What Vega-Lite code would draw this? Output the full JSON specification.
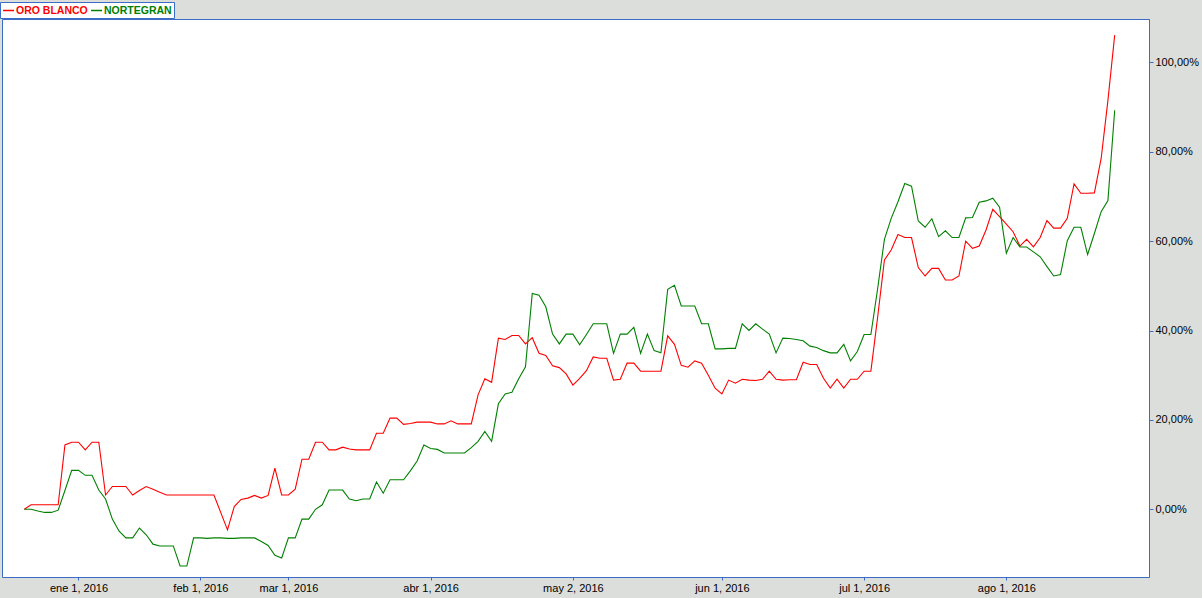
{
  "$schema": "https://vega.github.io/schema/vega-lite/v6.json",
  "width": 1147,
  "height": 558,
  "autosize": "none",
  "padding": {"left": 2, "top": 19, "right": 53, "bottom": 21},
  "background": "#dcdedc",
  "view": {"fill": "white", "stroke": "#3b6dc6", "strokeWidth": 1},
  "data": {
    "values": [
      {"fecha": "2015-12-18", "ORO BLANCO": 0, "NORTEGRAN": 0},
      {"fecha": "2015-12-21", "ORO BLANCO": 1.0, "NORTEGRAN": 0},
      {"fecha": "2015-12-22", "ORO BLANCO": 1.0, "NORTEGRAN": -0.4},
      {"fecha": "2015-12-23", "ORO BLANCO": 1.0, "NORTEGRAN": -0.7},
      {"fecha": "2015-12-24", "ORO BLANCO": 1.0, "NORTEGRAN": -0.7},
      {"fecha": "2015-12-28", "ORO BLANCO": 1.0, "NORTEGRAN": -0.2},
      {"fecha": "2015-12-29", "ORO BLANCO": 14.4, "NORTEGRAN": 4.2},
      {"fecha": "2015-12-30", "ORO BLANCO": 15.0, "NORTEGRAN": 8.7},
      {"fecha": "2016-01-04", "ORO BLANCO": 15.0, "NORTEGRAN": 8.7},
      {"fecha": "2016-01-05", "ORO BLANCO": 13.3, "NORTEGRAN": 7.6},
      {"fecha": "2016-01-06", "ORO BLANCO": 15.0, "NORTEGRAN": 7.6},
      {"fecha": "2016-01-07", "ORO BLANCO": 15.0, "NORTEGRAN": 4.3},
      {"fecha": "2016-01-08", "ORO BLANCO": 3.2, "NORTEGRAN": 2.3},
      {"fecha": "2016-01-11", "ORO BLANCO": 5.1, "NORTEGRAN": -2.2},
      {"fecha": "2016-01-12", "ORO BLANCO": 5.1, "NORTEGRAN": -4.9},
      {"fecha": "2016-01-13", "ORO BLANCO": 5.1, "NORTEGRAN": -6.4},
      {"fecha": "2016-01-14", "ORO BLANCO": 3.2, "NORTEGRAN": -6.4},
      {"fecha": "2016-01-18", "ORO BLANCO": 4.2, "NORTEGRAN": -4.2},
      {"fecha": "2016-01-19", "ORO BLANCO": 5.1, "NORTEGRAN": -5.7},
      {"fecha": "2016-01-20", "ORO BLANCO": 4.5, "NORTEGRAN": -7.8},
      {"fecha": "2016-01-21", "ORO BLANCO": 3.8, "NORTEGRAN": -8.2},
      {"fecha": "2016-01-22", "ORO BLANCO": 3.2, "NORTEGRAN": -8.2},
      {"fecha": "2016-01-25", "ORO BLANCO": 3.2, "NORTEGRAN": -8.2},
      {"fecha": "2016-01-26", "ORO BLANCO": 3.2, "NORTEGRAN": -12.7},
      {"fecha": "2016-01-28", "ORO BLANCO": 3.2, "NORTEGRAN": -12.7},
      {"fecha": "2016-01-29", "ORO BLANCO": 3.2, "NORTEGRAN": -6.4},
      {"fecha": "2016-02-01", "ORO BLANCO": 3.2, "NORTEGRAN": -6.4},
      {"fecha": "2016-02-02", "ORO BLANCO": 3.2, "NORTEGRAN": -6.5},
      {"fecha": "2016-02-04", "ORO BLANCO": 3.2, "NORTEGRAN": -6.4},
      {"fecha": "2016-02-05", "ORO BLANCO": -0.7, "NORTEGRAN": -6.4},
      {"fecha": "2016-02-09", "ORO BLANCO": -4.6, "NORTEGRAN": -6.5},
      {"fecha": "2016-02-10", "ORO BLANCO": 0.6, "NORTEGRAN": -6.5},
      {"fecha": "2016-02-12", "ORO BLANCO": 2.2, "NORTEGRAN": -6.4},
      {"fecha": "2016-02-16", "ORO BLANCO": 2.5, "NORTEGRAN": -6.4},
      {"fecha": "2016-02-17", "ORO BLANCO": 3.1, "NORTEGRAN": -6.4},
      {"fecha": "2016-02-19", "ORO BLANCO": 2.5, "NORTEGRAN": -7.2},
      {"fecha": "2016-02-23", "ORO BLANCO": 3.1, "NORTEGRAN": -8.1},
      {"fecha": "2016-02-25", "ORO BLANCO": 9.2, "NORTEGRAN": -10.3},
      {"fecha": "2016-02-29", "ORO BLANCO": 3.2, "NORTEGRAN": -10.9},
      {"fecha": "2016-03-01", "ORO BLANCO": 3.2, "NORTEGRAN": -6.4},
      {"fecha": "2016-03-02", "ORO BLANCO": 4.5, "NORTEGRAN": -6.4},
      {"fecha": "2016-03-03", "ORO BLANCO": 11.2, "NORTEGRAN": -2.2},
      {"fecha": "2016-03-04", "ORO BLANCO": 11.2, "NORTEGRAN": -2.2},
      {"fecha": "2016-03-07", "ORO BLANCO": 15.0, "NORTEGRAN": 0.0},
      {"fecha": "2016-03-08", "ORO BLANCO": 15.0, "NORTEGRAN": 1.0},
      {"fecha": "2016-03-10", "ORO BLANCO": 13.3, "NORTEGRAN": 4.3},
      {"fecha": "2016-03-11", "ORO BLANCO": 13.3, "NORTEGRAN": 4.3},
      {"fecha": "2016-03-14", "ORO BLANCO": 13.9, "NORTEGRAN": 4.3},
      {"fecha": "2016-03-15", "ORO BLANCO": 13.5, "NORTEGRAN": 2.3},
      {"fecha": "2016-03-16", "ORO BLANCO": 13.3, "NORTEGRAN": 1.9},
      {"fecha": "2016-03-17", "ORO BLANCO": 13.3, "NORTEGRAN": 2.3},
      {"fecha": "2016-03-18", "ORO BLANCO": 13.3, "NORTEGRAN": 2.3},
      {"fecha": "2016-03-21", "ORO BLANCO": 17.0, "NORTEGRAN": 6.1},
      {"fecha": "2016-03-22", "ORO BLANCO": 17.0, "NORTEGRAN": 3.6},
      {"fecha": "2016-03-23", "ORO BLANCO": 20.4, "NORTEGRAN": 6.6},
      {"fecha": "2016-03-24", "ORO BLANCO": 20.4, "NORTEGRAN": 6.6},
      {"fecha": "2016-03-28", "ORO BLANCO": 19.0, "NORTEGRAN": 6.6},
      {"fecha": "2016-03-29", "ORO BLANCO": 19.2, "NORTEGRAN": 8.6},
      {"fecha": "2016-03-30", "ORO BLANCO": 19.5, "NORTEGRAN": 10.8},
      {"fecha": "2016-03-31", "ORO BLANCO": 19.5, "NORTEGRAN": 14.4},
      {"fecha": "2016-04-01", "ORO BLANCO": 19.5, "NORTEGRAN": 13.6},
      {"fecha": "2016-04-04", "ORO BLANCO": 19.1, "NORTEGRAN": 13.4},
      {"fecha": "2016-04-05", "ORO BLANCO": 19.1, "NORTEGRAN": 12.6},
      {"fecha": "2016-04-06", "ORO BLANCO": 19.8, "NORTEGRAN": 12.6},
      {"fecha": "2016-04-07", "ORO BLANCO": 19.1, "NORTEGRAN": 12.6},
      {"fecha": "2016-04-08", "ORO BLANCO": 19.1, "NORTEGRAN": 12.6},
      {"fecha": "2016-04-11", "ORO BLANCO": 19.1, "NORTEGRAN": 13.8},
      {"fecha": "2016-04-12", "ORO BLANCO": 25.6, "NORTEGRAN": 15.2},
      {"fecha": "2016-04-13", "ORO BLANCO": 29.2, "NORTEGRAN": 17.4},
      {"fecha": "2016-04-14", "ORO BLANCO": 28.4, "NORTEGRAN": 15.2},
      {"fecha": "2016-04-15", "ORO BLANCO": 38.3, "NORTEGRAN": 23.6},
      {"fecha": "2016-04-18", "ORO BLANCO": 38.0, "NORTEGRAN": 25.8},
      {"fecha": "2016-04-19", "ORO BLANCO": 38.9, "NORTEGRAN": 26.2},
      {"fecha": "2016-04-20", "ORO BLANCO": 38.9, "NORTEGRAN": 29.2},
      {"fecha": "2016-04-21", "ORO BLANCO": 37.0, "NORTEGRAN": 31.9},
      {"fecha": "2016-04-22", "ORO BLANCO": 38.4, "NORTEGRAN": 48.3},
      {"fecha": "2016-04-25", "ORO BLANCO": 34.9, "NORTEGRAN": 47.9},
      {"fecha": "2016-04-26", "ORO BLANCO": 34.4, "NORTEGRAN": 45.3},
      {"fecha": "2016-04-27", "ORO BLANCO": 32.1, "NORTEGRAN": 39.2},
      {"fecha": "2016-04-28", "ORO BLANCO": 31.7, "NORTEGRAN": 37.0},
      {"fecha": "2016-04-29", "ORO BLANCO": 30.3, "NORTEGRAN": 39.2},
      {"fecha": "2016-05-02", "ORO BLANCO": 27.8, "NORTEGRAN": 39.2},
      {"fecha": "2016-05-03", "ORO BLANCO": 29.3, "NORTEGRAN": 36.8},
      {"fecha": "2016-05-04", "ORO BLANCO": 31.0, "NORTEGRAN": 39.1},
      {"fecha": "2016-05-05", "ORO BLANCO": 34.1, "NORTEGRAN": 41.5},
      {"fecha": "2016-05-06", "ORO BLANCO": 33.8, "NORTEGRAN": 41.5},
      {"fecha": "2016-05-09", "ORO BLANCO": 33.8, "NORTEGRAN": 41.5},
      {"fecha": "2016-05-10", "ORO BLANCO": 28.9, "NORTEGRAN": 34.9},
      {"fecha": "2016-05-11", "ORO BLANCO": 29.1, "NORTEGRAN": 39.2},
      {"fecha": "2016-05-12", "ORO BLANCO": 32.7, "NORTEGRAN": 39.2},
      {"fecha": "2016-05-13", "ORO BLANCO": 32.7, "NORTEGRAN": 40.7},
      {"fecha": "2016-05-16", "ORO BLANCO": 30.9, "NORTEGRAN": 34.9},
      {"fecha": "2016-05-17", "ORO BLANCO": 30.9, "NORTEGRAN": 39.2},
      {"fecha": "2016-05-18", "ORO BLANCO": 30.9, "NORTEGRAN": 35.5},
      {"fecha": "2016-05-19", "ORO BLANCO": 30.9, "NORTEGRAN": 35.0},
      {"fecha": "2016-05-20", "ORO BLANCO": 38.8, "NORTEGRAN": 49.2},
      {"fecha": "2016-05-23", "ORO BLANCO": 36.9, "NORTEGRAN": 50.1},
      {"fecha": "2016-05-24", "ORO BLANCO": 32.2, "NORTEGRAN": 45.5},
      {"fecha": "2016-05-25", "ORO BLANCO": 31.8, "NORTEGRAN": 45.5},
      {"fecha": "2016-05-26", "ORO BLANCO": 33.2, "NORTEGRAN": 45.5},
      {"fecha": "2016-05-27", "ORO BLANCO": 32.7, "NORTEGRAN": 41.5},
      {"fecha": "2016-05-30", "ORO BLANCO": 30.0, "NORTEGRAN": 41.5},
      {"fecha": "2016-05-31", "ORO BLANCO": 27.1, "NORTEGRAN": 35.9},
      {"fecha": "2016-06-01", "ORO BLANCO": 25.8, "NORTEGRAN": 35.9},
      {"fecha": "2016-06-02", "ORO BLANCO": 28.9, "NORTEGRAN": 36.0},
      {"fecha": "2016-06-03", "ORO BLANCO": 28.2, "NORTEGRAN": 36.0},
      {"fecha": "2016-06-06", "ORO BLANCO": 29.1, "NORTEGRAN": 41.5},
      {"fecha": "2016-06-07", "ORO BLANCO": 28.9, "NORTEGRAN": 40.0},
      {"fecha": "2016-06-08", "ORO BLANCO": 28.8, "NORTEGRAN": 41.5},
      {"fecha": "2016-06-09", "ORO BLANCO": 29.1, "NORTEGRAN": 40.3},
      {"fecha": "2016-06-10", "ORO BLANCO": 30.9, "NORTEGRAN": 39.2},
      {"fecha": "2016-06-13", "ORO BLANCO": 29.1, "NORTEGRAN": 35.0},
      {"fecha": "2016-06-14", "ORO BLANCO": 28.9, "NORTEGRAN": 38.3},
      {"fecha": "2016-06-15", "ORO BLANCO": 29.0, "NORTEGRAN": 38.2},
      {"fecha": "2016-06-16", "ORO BLANCO": 29.0, "NORTEGRAN": 38.0},
      {"fecha": "2016-06-17", "ORO BLANCO": 32.9, "NORTEGRAN": 37.7},
      {"fecha": "2016-06-20", "ORO BLANCO": 32.4, "NORTEGRAN": 36.5},
      {"fecha": "2016-06-21", "ORO BLANCO": 32.4, "NORTEGRAN": 36.2},
      {"fecha": "2016-06-22", "ORO BLANCO": 29.3, "NORTEGRAN": 35.5},
      {"fecha": "2016-06-23", "ORO BLANCO": 27.1, "NORTEGRAN": 35.0},
      {"fecha": "2016-06-24", "ORO BLANCO": 29.1, "NORTEGRAN": 35.0},
      {"fecha": "2016-06-28", "ORO BLANCO": 27.1, "NORTEGRAN": 36.9},
      {"fecha": "2016-06-29", "ORO BLANCO": 29.1, "NORTEGRAN": 33.2},
      {"fecha": "2016-06-30", "ORO BLANCO": 29.1, "NORTEGRAN": 35.3},
      {"fecha": "2016-07-01", "ORO BLANCO": 30.9, "NORTEGRAN": 39.1},
      {"fecha": "2016-07-04", "ORO BLANCO": 30.9, "NORTEGRAN": 39.1},
      {"fecha": "2016-07-05", "ORO BLANCO": 43.0, "NORTEGRAN": 49.4},
      {"fecha": "2016-07-06", "ORO BLANCO": 55.8, "NORTEGRAN": 60.4},
      {"fecha": "2016-07-07", "ORO BLANCO": 58.0, "NORTEGRAN": 65.1},
      {"fecha": "2016-07-08", "ORO BLANCO": 61.5, "NORTEGRAN": 68.8},
      {"fecha": "2016-07-11", "ORO BLANCO": 60.8, "NORTEGRAN": 72.9},
      {"fecha": "2016-07-12", "ORO BLANCO": 60.8, "NORTEGRAN": 72.3},
      {"fecha": "2016-07-13", "ORO BLANCO": 54.1, "NORTEGRAN": 64.5},
      {"fecha": "2016-07-14", "ORO BLANCO": 52.2, "NORTEGRAN": 63.1},
      {"fecha": "2016-07-15", "ORO BLANCO": 53.9, "NORTEGRAN": 65.0},
      {"fecha": "2016-07-18", "ORO BLANCO": 53.9, "NORTEGRAN": 61.0},
      {"fecha": "2016-07-19", "ORO BLANCO": 51.3, "NORTEGRAN": 62.3},
      {"fecha": "2016-07-20", "ORO BLANCO": 51.3, "NORTEGRAN": 60.8},
      {"fecha": "2016-07-21", "ORO BLANCO": 52.2, "NORTEGRAN": 60.8},
      {"fecha": "2016-07-22", "ORO BLANCO": 60.0, "NORTEGRAN": 65.2},
      {"fecha": "2016-07-25", "ORO BLANCO": 58.4, "NORTEGRAN": 65.3},
      {"fecha": "2016-07-26", "ORO BLANCO": 58.9, "NORTEGRAN": 68.7},
      {"fecha": "2016-07-27", "ORO BLANCO": 62.5, "NORTEGRAN": 69.0},
      {"fecha": "2016-07-28", "ORO BLANCO": 67.1, "NORTEGRAN": 69.6},
      {"fecha": "2016-07-29", "ORO BLANCO": 65.5, "NORTEGRAN": 67.6},
      {"fecha": "2016-08-01", "ORO BLANCO": 63.8, "NORTEGRAN": 57.3},
      {"fecha": "2016-08-02", "ORO BLANCO": 62.1, "NORTEGRAN": 60.8},
      {"fecha": "2016-08-03", "ORO BLANCO": 58.9, "NORTEGRAN": 58.7},
      {"fecha": "2016-08-04", "ORO BLANCO": 60.4, "NORTEGRAN": 58.7},
      {"fecha": "2016-08-05", "ORO BLANCO": 58.7, "NORTEGRAN": 57.6},
      {"fecha": "2016-08-08", "ORO BLANCO": 60.8, "NORTEGRAN": 56.5},
      {"fecha": "2016-08-09", "ORO BLANCO": 64.6, "NORTEGRAN": 54.3},
      {"fecha": "2016-08-10", "ORO BLANCO": 62.9, "NORTEGRAN": 52.2},
      {"fecha": "2016-08-11", "ORO BLANCO": 62.9, "NORTEGRAN": 52.5},
      {"fecha": "2016-08-12", "ORO BLANCO": 65.1, "NORTEGRAN": 60.1},
      {"fecha": "2016-08-16", "ORO BLANCO": 72.8, "NORTEGRAN": 63.1},
      {"fecha": "2016-08-17", "ORO BLANCO": 70.7, "NORTEGRAN": 63.1},
      {"fecha": "2016-08-18", "ORO BLANCO": 70.7, "NORTEGRAN": 57.0},
      {"fecha": "2016-08-19", "ORO BLANCO": 70.8, "NORTEGRAN": 61.7},
      {"fecha": "2016-08-22", "ORO BLANCO": 78.5, "NORTEGRAN": 66.6},
      {"fecha": "2016-08-23", "ORO BLANCO": 91.5, "NORTEGRAN": 69.1},
      {"fecha": "2016-08-24", "ORO BLANCO": 106.1, "NORTEGRAN": 89.3}
    ]
  },
  "transform": [
    {"fold": ["ORO BLANCO", "NORTEGRAN"], "as": ["serie", "rentabilidad"]}
  ],
  "mark": {"type": "line", "strokeWidth": 1.1, "interpolate": "linear"},
  "encoding": {
    "x": {
      "field": "fecha",
      "type": "ordinal",
      "scale": {"type": "point", "padding": 0, "range": [22.3, 1112.7]},
      "axis": {
        "title": null,
        "values": ["2016-01-04", "2016-02-01", "2016-03-01", "2016-04-01", "2016-05-02", "2016-06-01", "2016-07-01", "2016-08-01"],
        "labelExpr": "['ene','feb','mar','abr','may','jun','jul','ago','sep','oct','nov','dic'][utcmonth(toDate(datum.value))] + ' ' + (utcday(utc(utcyear(toDate(datum.value)), utcmonth(toDate(datum.value)), 1)) == 6 ? 3 : (utcday(utc(utcyear(toDate(datum.value)), utcmonth(toDate(datum.value)), 1)) == 0 ? 2 : 1)) + ', ' + utcyear(toDate(datum.value))",
        "labelAngle": 0,
        "labelFont": "Liberation Sans",
        "labelFontSize": 11,
        "labelColor": "#000000",
        "labelPadding": 2,
        "tickSize": 3,
        "tickColor": "#3b6dc6",
        "domainColor": "#3b6dc6",
        "grid": false,
        "labelOverlap": false
      }
    },
    "y": {
      "field": "rentabilidad",
      "type": "quantitative",
      "scale": {"domain": [-15.15, 109.7], "nice": false, "zero": false},
      "axis": {
        "orient": "right",
        "title": null,
        "values": [0, 20, 40, 60, 80, 100],
        "labelExpr": "replace(format(datum.value, '.2f'), '.', ',') + '%'",
        "labelFont": "Liberation Sans",
        "labelFontSize": 11,
        "labelColor": "#000000",
        "labelPadding": 2,
        "tickSize": 4,
        "tickColor": "#3b6dc6",
        "domainColor": "#3b6dc6",
        "grid": false
      }
    },
    "color": {
      "field": "serie",
      "type": "nominal",
      "scale": {"domain": ["ORO BLANCO", "NORTEGRAN"], "range": ["#ff0000", "#008000"]},
      "legend": {
        "orient": "none",
        "legendX": -2,
        "legendY": -17,
        "direction": "horizontal",
        "title": null,
        "symbolType": "stroke",
        "symbolSize": 121,
        "symbolStrokeWidth": 1.5,
        "labelFont": "Liberation Sans",
        "labelFontWeight": "bold",
        "labelFontSize": 10.5,
        "labelColor": {"expr": "datum.value == 'ORO BLANCO' ? '#ff0000' : '#008000'"},
        "labelOffset": 1,
        "columnPadding": 0,
        "strokeColor": "#3b6dc6",
        "fillColor": "#ffffff",
        "padding": 2
      }
    }
  }
}
